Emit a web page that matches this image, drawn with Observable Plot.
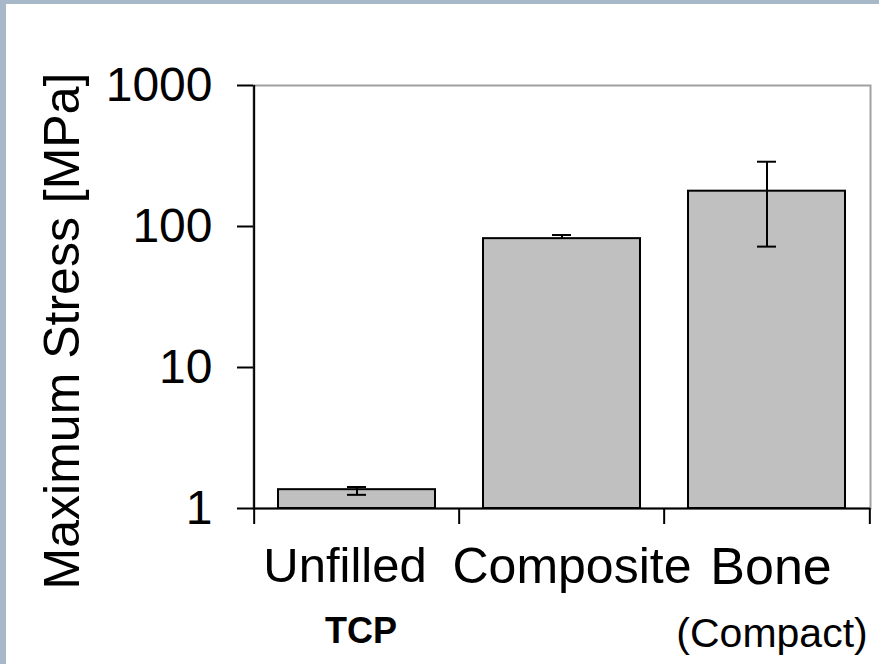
<!DOCTYPE html>
<html><head><meta charset="utf-8">
<script src="https://cdn.jsdelivr.net/npm/d3@7"></script>
<script src="https://cdn.jsdelivr.net/npm/@observablehq/plot@0.6"></script>
<style>
html,body{margin:0;padding:0;}
body{background:#a7b9c9;width:879px;height:664px;overflow:hidden;position:relative;}
#wrap{position:absolute;left:6px;top:4px;width:873px;height:660px;background:#fff;}
</style></head><body><div id="wrap"></div>
<script>
// Data
const categories = ["Unfilled", "Composite", "Bone"];
const stressValues = [1.36, 82, 178];
const errorLow = [1.25, 82, 72];
const errorHigh = [1.42, 87, 288];
const subLabels = ["TCP", "", "(Compact)"];
const yTicks = [1, 10, 100, 1000];
const yLabel = "Maximum Stress [MPa]";

const bars = categories.map((c, i) => ({cat: c, value: stressValues[i], lo: errorLow[i], hi: errorHigh[i], sub: subLabels[i]}));

const W = 873, H = 660, ML = 247, MR = 9, MT = 81, MB = 156;
const padInner = 0.235, padOuter = padInner / 2;
const step = (W - ML - MR) / categories.length;
const font = "'Liberation Sans', Arial, sans-serif";

// small horizontal nudges of the category labels, as in the reference
const labelShift = {Unfilled: -12, Composite: 10, Bone: 4};
const labelSize = {Unfilled: 49, Composite: 50, Bone: 52};

const chart = Plot.plot({
  width: W, height: H,
  marginLeft: ML, marginRight: MR, marginTop: MT, marginBottom: MB,
  style: {background: "white", fontFamily: font, color: "black", overflow: "visible"},
  x: {type: "band", domain: categories, paddingInner: padInner, paddingOuter: padOuter},
  y: {type: "log", domain: [1, 1000]},
  marks: [
    Plot.frame({stroke: "#a0a0a0", strokeWidth: 2}),
    Plot.barY(bars, {x: "cat", y1: 1, y2: "value", fill: "#c0c0c0", stroke: "black", strokeWidth: 2}),
    Plot.ruleX(bars, {x: "cat", y1: "lo", y2: "hi", stroke: "black", strokeWidth: 2}),
    Plot.tickY(bars, {x: "cat", y: "hi", stroke: "black", strokeWidth: 2, insetLeft: 69, insetRight: 69}),
    Plot.tickY(bars, {filter: d => d.lo < d.value, x: "cat", y: "lo", stroke: "black", strokeWidth: 2, insetLeft: 69, insetRight: 69}),
    Plot.ruleY([1], {stroke: "black", strokeWidth: 2}),
    Plot.ruleX([categories[0]], {dx: -step / 2, stroke: "black", strokeWidth: 2}),
    Plot.axisY({ticks: yTicks, tickFormat: d => String(d), tickSize: 16, tickPadding: 25, fontSize: 48, strokeWidth: 2, label: null}),
    Plot.axisX({tickSize: 16, dx: -step / 2, tickFormat: () => "", strokeWidth: 2, label: null}),
    Plot.axisX({ticks: [categories[categories.length - 1]], tickSize: 16, dx: step / 2, tickFormat: () => "", strokeWidth: 2, label: null}),
    ...categories.map(c => Plot.axisX({ticks: [c], tickSize: 0, tickPadding: 39, fontSize: labelSize[c], dx: labelShift[c], label: null})),
    Plot.text(bars, {filter: d => d.cat === "Unfilled", x: "cat", text: "sub", frameAnchor: "bottom", dx: 4, dy: 123, fontSize: 36, fontWeight: "bold", lineAnchor: "middle"}),
    Plot.text(bars, {filter: d => d.cat === "Bone", x: "cat", text: "sub", frameAnchor: "bottom", dx: 5, dy: 125, fontSize: 41, lineAnchor: "middle"}),
    Plot.text([yLabel], {frameAnchor: "left", textAnchor: "middle", rotate: -90, fontSize: 50, dx: -191, dy: 34})
  ]
});
document.getElementById("wrap").appendChild(chart);
</script>
</body></html>
